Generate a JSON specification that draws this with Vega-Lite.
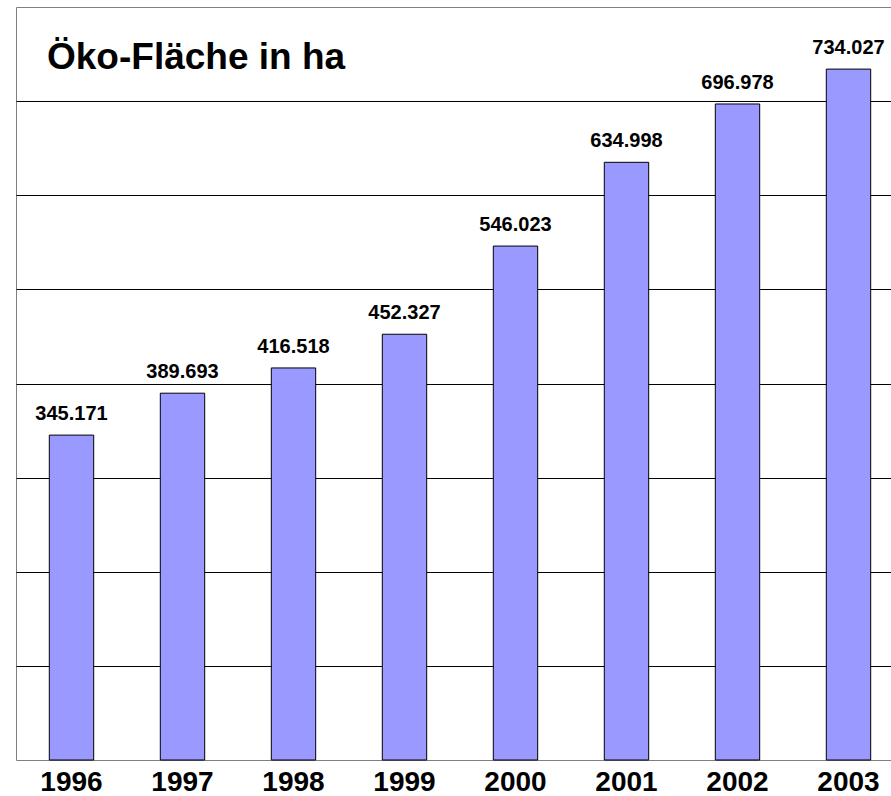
{
  "$schema": "https://vega.github.io/schema/vega-lite/v6.json",
  "autosize": {"type": "none"},
  "padding": {"left": 16, "top": 7, "right": 0, "bottom": 36},
  "width": 888,
  "height": 753,
  "background": "white",
  "title": {
    "text": "Öko-Fläche in ha",
    "anchor": "start",
    "frame": "group",
    "orient": "top",
    "offset": 0,
    "baseline": "alphabetic",
    "dx": 31,
    "dy": 99,
    "font": "Liberation Sans",
    "fontSize": 37,
    "fontWeight": "bold",
    "color": "black"
  },
  "data": {
    "values": [
      {"year": "1996", "ha": 345171},
      {"year": "1997", "ha": 389693},
      {"year": "1998", "ha": 416518},
      {"year": "1999", "ha": 452327},
      {"year": "2000", "ha": 546023},
      {"year": "2001", "ha": 634998},
      {"year": "2002", "ha": 696978},
      {"year": "2003", "ha": 734027}
    ]
  },
  "encoding": {
    "x": {
      "field": "year",
      "type": "ordinal",
      "scale": {"paddingInner": 0.6, "paddingOuter": 0.3},
      "axis": {
        "title": null,
        "labelAngle": 0,
        "ticks": false,
        "tickSize": 0,
        "domain": false,
        "labelFont": "Liberation Sans",
        "labelFontSize": 28,
        "labelFontWeight": "bold",
        "labelColor": "black",
        "labelBaseline": "alphabetic",
        "labelPadding": 30
      }
    },
    "y": {
      "field": "ha",
      "type": "quantitative",
      "scale": {"domain": [0, 800000], "nice": false},
      "axis": {
        "title": null,
        "labels": false,
        "ticks": false,
        "domain": false,
        "grid": true,
        "gridColor": "black",
        "gridWidth": 1,
        "gridOpacity": 1,
        "values": [100000, 200000, 300000, 400000, 500000, 600000, 700000]
      }
    }
  },
  "layer": [
    {
      "mark": {"type": "bar", "fill": "#9999FF", "stroke": "black", "strokeWidth": 1}
    },
    {
      "mark": {
        "type": "text",
        "baseline": "alphabetic",
        "align": "center",
        "dy": -15,
        "font": "Liberation Sans",
        "fontSize": 20,
        "fontWeight": "bold",
        "color": "black"
      },
      "encoding": {
        "text": {"field": "ha", "type": "quantitative", "format": ",d"}
      }
    }
  ],
  "config": {
    "locale": {
      "number": {"decimal": ",", "thousands": ".", "grouping": [3], "currency": ["", " €"]}
    },
    "view": {"stroke": "#808080", "strokeWidth": 1}
  }
}
